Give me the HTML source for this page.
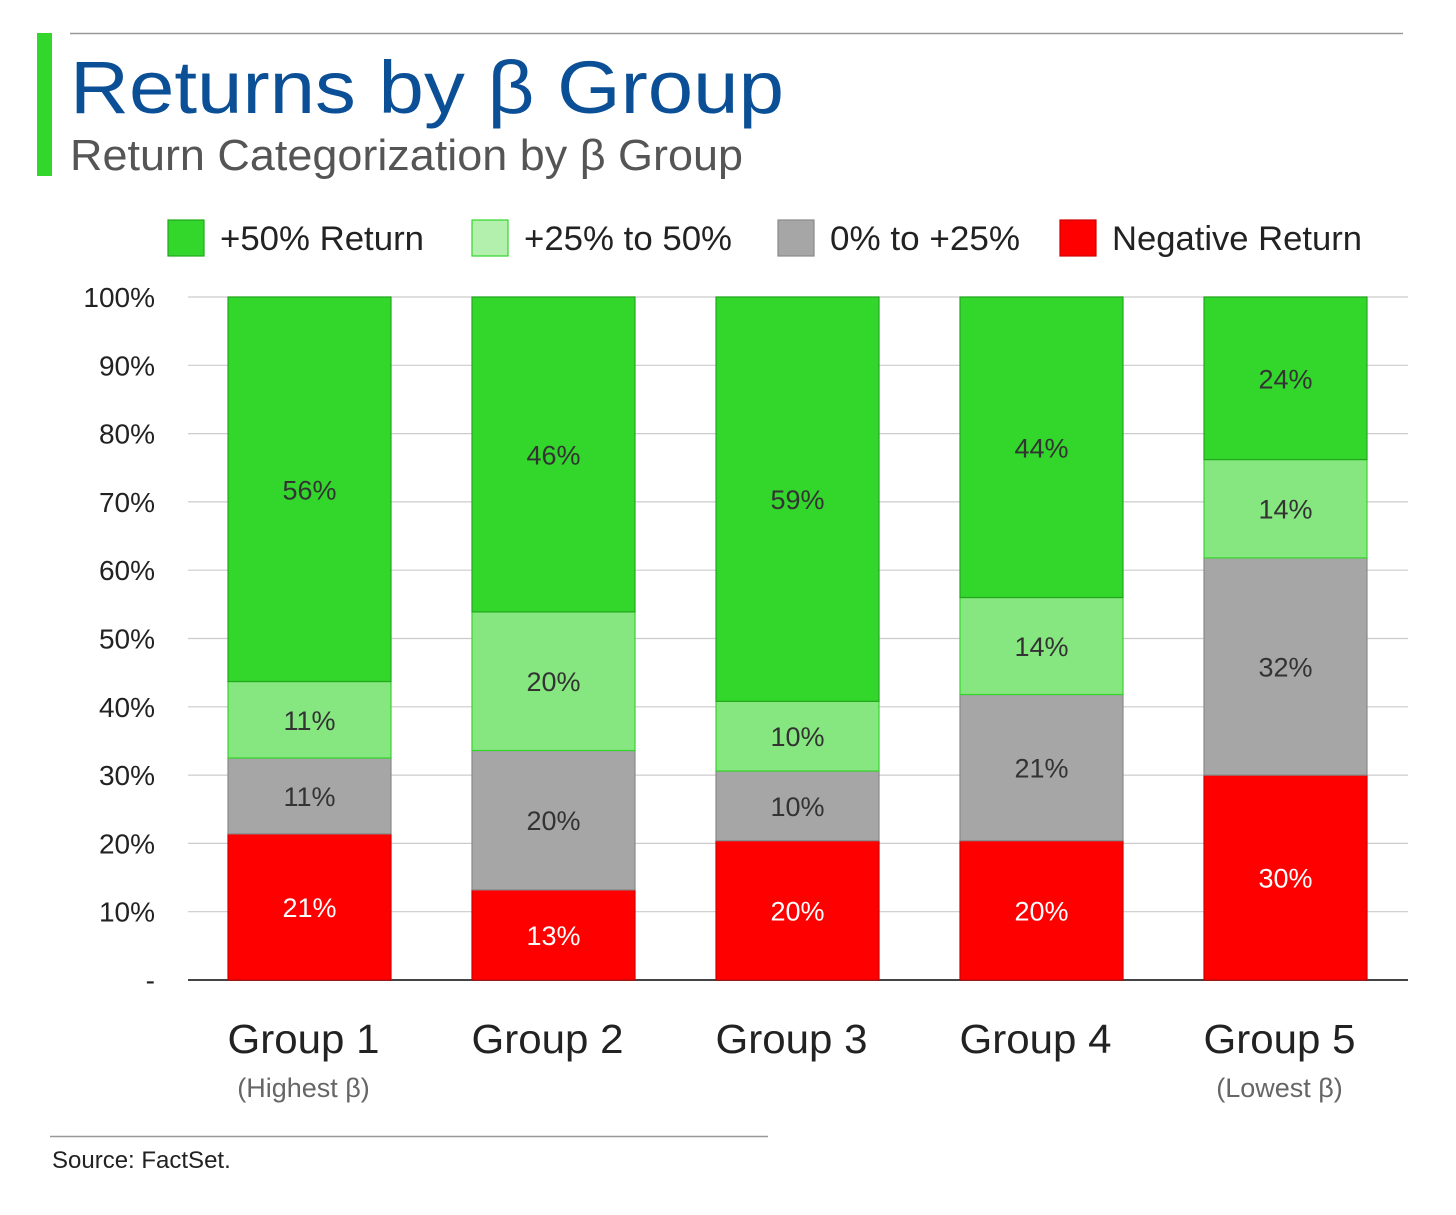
<!DOCTYPE html>
<html><head><meta charset="utf-8">
<style>
body{margin:0;background:#fff;width:1456px;height:1210px;overflow:hidden;font-family:"Liberation Sans",sans-serif;}
</style></head>
<body>
<svg id="chart" width="1456" height="1210" xmlns="http://www.w3.org/2000/svg">
<rect x="37" y="33" width="15" height="143" fill="#33d62b"/>
<line x1="70" y1="33.5" x2="1403" y2="33.5" stroke="#999" stroke-width="1.5"/>
<text x="70" y="113" font-size="74" fill="#0b4f96" textLength="714" lengthAdjust="spacingAndGlyphs">Returns by β Group</text>
<text x="70" y="170" font-size="44" fill="#555" textLength="673" lengthAdjust="spacingAndGlyphs">Return Categorization by β Group</text>
<g id="legend"></g>
<g id="grid"></g>
<g id="bars"></g>
<g id="xlabels"></g>
<line x1="50" y1="1136.5" x2="768" y2="1136.5" stroke="#999" stroke-width="1.5"/>
<text x="52" y="1168" font-size="24" fill="#222">Source: FactSet.</text>
</svg>
<script>
const categories=["Group 1","Group 2","Group 3","Group 4","Group 5"];
const subLabels=["(Highest β)","","","","(Lowest β)"];
const negative=[21.4,13.2,20.4,20.4,30.0];
const zeroTo25=[11.1,20.4,10.2,21.4,31.8];
const to50=[11.2,20.3,10.2,14.2,14.4];
const plus50=[56.3,46.1,59.2,44.0,23.8];
const yTicks=[0,10,20,30,40,50,60,70,80,90,100];
const tickLabels=["-","10%","20%","30%","40%","50%","60%","70%","80%","90%","100%"];
const seriesNames=["+50% Return","+25% to 50%","0% to +25%","Negative Return"];

const NS="http://www.w3.org/2000/svg";
function mk(tag,attrs,parent,text){const e=document.createElementNS(NS,tag);for(const k in attrs)e.setAttribute(k,attrs[k]);if(text!==undefined)e.textContent=text;parent.appendChild(e);return e;}
const y0=980,y100=297;
function yScale(v){return y0-(y0-y100)*v/100;}
const barW=163;
function xScale(i){return 228+i*244;}

const grid=document.getElementById('grid');
yTicks.forEach((t,i)=>{
  const l=mk('line',{x1:188,x2:1408,y1:yScale(t),y2:yScale(t),stroke:i===0?'#444':'#ccc','stroke-width':i===0?2:1.2},grid);
  
  
  const tx=mk('text',{x:155,y:yScale(t)+10,'font-size':28,fill:'#222','text-anchor':'end'},grid,tickLabels[i]);
  
  
});

const series=[
 {vals:negative,fill:'#ff0000',stroke:'#d00000',txt:'#fff',name:'negative'},
 {vals:zeroTo25,fill:'#a6a6a6',stroke:'#8a8a8a',txt:'#333',name:'zero-to-25'},
 {vals:to50,fill:'#86e67f',stroke:'#33d62b',txt:'#333',name:'25-to-50'},
 {vals:plus50,fill:'#33d62b',stroke:'#22a81c',txt:'#333',name:'plus-50'}
];
const bars=document.getElementById('bars');
categories.forEach((c,i)=>{
  let base=0;
  series.forEach(s=>{
    const v=s.vals[i];
    const yt=yScale(base+v),yb=yScale(base);
    const r=mk('rect',{x:xScale(i),y:yt,width:barW,height:yb-yt,fill:s.fill,stroke:s.stroke,'stroke-width':1.2},bars);
    
    
    const t=mk('text',{x:xScale(i)+barW/2,y:(yt+yb)/2+10,'font-size':27,fill:s.txt,'text-anchor':'middle'},bars,Math.round(v)+'%');
    
    
    base+=v;
  });
});

const xl=document.getElementById('xlabels');
categories.forEach((c,i)=>{
  const cx=xScale(i)+barW/2-6;
  const t=mk('text',{x:cx,y:1053,'font-size':41,fill:'#222','text-anchor':'middle',textLength:152,lengthAdjust:'spacingAndGlyphs'},xl,c);
  
  
  if(subLabels[i]){
    const s=mk('text',{x:cx,y:1097,'font-size':27,fill:'#666','text-anchor':'middle'},xl,subLabels[i]);
    
    
  }
});

const lg=document.getElementById('legend');
const legX=[168,472,778,1060];
const legLen=[204,208,190,250];
const legFill=['#33d62b','#b3f0ad','#a6a6a6','#ff0000'];
const legStroke=['#22a81c','#33d62b','#8a8a8a','#d00000'];
seriesNames.forEach((n,i)=>{
  const r=mk('rect',{x:legX[i],y:220,width:36,height:36,fill:legFill[i],stroke:legStroke[i],'stroke-width':1.2},lg);
  
  
  const t=mk('text',{x:legX[i]+52,y:250,'font-size':34,fill:'#222',textLength:legLen[i],lengthAdjust:'spacingAndGlyphs'},lg,n);
  
  
});
</script>
</body></html>
